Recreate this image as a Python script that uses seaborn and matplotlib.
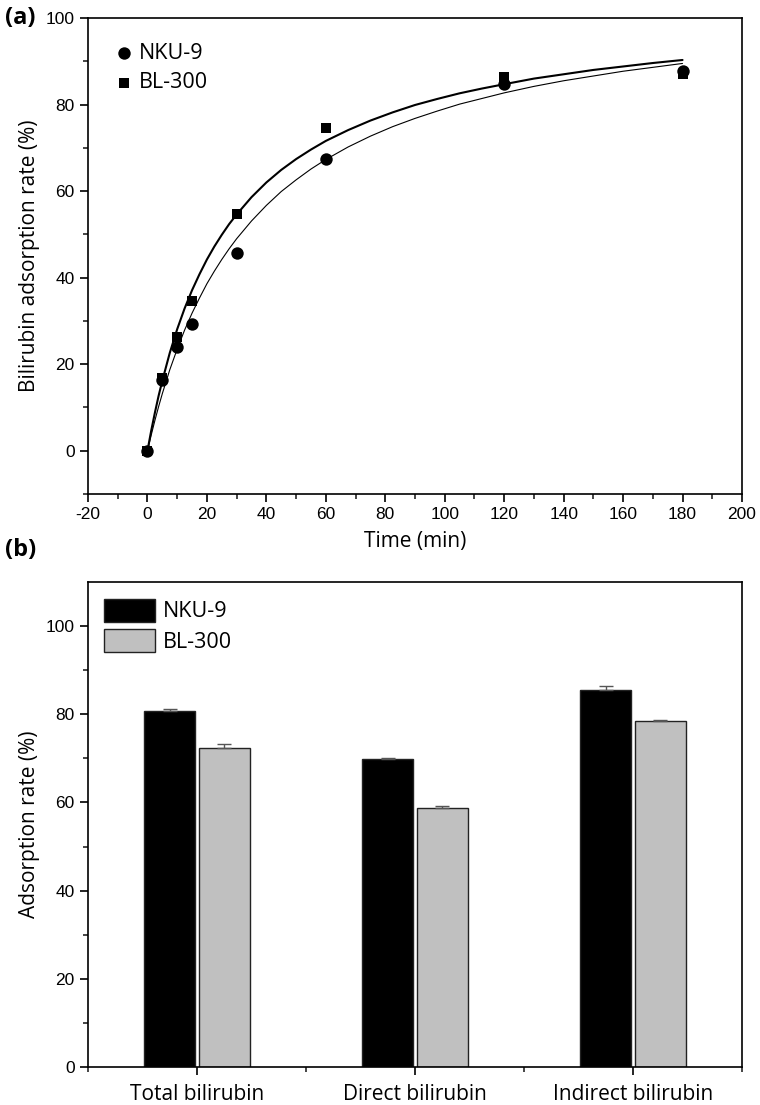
import numpy as np
import pandas as pd
import matplotlib
matplotlib.use('Agg')
import matplotlib.pyplot as plt
import seaborn as sns
from matplotlib.ticker import MultipleLocator, FixedLocator

# --- Data ---
# (a) adsorption kinetics
time_min = [0, 5, 10, 15, 30, 60, 120, 180]
nku9_rate = [0.0, 16.3, 23.9, 29.3, 45.8, 67.4, 84.7, 87.8]
bl300_rate = [0.0, 16.7, 26.3, 34.7, 54.6, 74.5, 86.3, 87.0]

# fitted curves
fit_time = [0, 1.25, 2.5, 3.75, 5, 7.5, 10, 12.5, 15, 17.5, 20, 22.5, 25, 27.5, 30,
            35, 40, 45, 50, 55, 60, 67.5, 75, 82.5, 90, 97.5, 105, 112.5, 120,
            130, 140, 150, 160, 170, 180]
nku9_fit = [0.0, 3.6, 7.0, 10.2, 13.2, 18.7, 23.5, 27.9, 31.8, 35.3, 38.6, 41.5, 44.2,
            46.7, 49.0, 53.1, 56.7, 59.9, 62.6, 65.1, 67.3, 70.2, 72.7, 74.9, 76.8,
            78.5, 80.1, 81.4, 82.7, 84.2, 85.5, 86.6, 87.7, 88.6, 89.5]
bl300_fit = [0.0, 4.6, 8.8, 12.7, 16.2, 22.6, 28.1, 32.9, 37.1, 40.8, 44.2, 47.2, 49.9,
             52.4, 54.6, 58.6, 62.0, 64.9, 67.4, 69.6, 71.6, 74.1, 76.3, 78.2, 79.9,
             81.3, 82.6, 83.7, 84.7, 86.0, 87.0, 88.0, 88.8, 89.6, 90.3]

# (b) adsorption of bilirubin types
categories = ['Total bilirubin', 'Direct bilirubin', 'Indirect bilirubin']
nku9_bar = [80.8, 69.8, 85.6]
nku9_err = [0.5, 0.35, 0.7]
bl300_bar = [72.4, 58.7, 78.5]
bl300_err = [0.8, 0.4, 0.2]

sns.set_style('ticks')
plt.rcParams['font.family'] = ['Liberation Sans', 'DejaVu Sans']
plt.rcParams['axes.unicode_minus'] = False
plt.rcParams['text.color'] = 'black'
plt.rcParams['axes.labelcolor'] = 'black'
label_font = {'family': 'Open Sans', 'size': 15, 'color': 'black'}
legend_font = {'family': 'Open Sans', 'size': 15.5}

fig = plt.figure(figsize=(7.6, 11.05), dpi=100)
ax1 = fig.add_axes([0.1158, 0.5529, 0.8605, 0.4308])
ax2 = fig.add_axes([0.1158, 0.0344, 0.8605, 0.4389])

# --- Panel (a) ---
df_pts = pd.DataFrame({'t': time_min * 2,
                       'rate': nku9_rate + bl300_rate,
                       'sample': ['NKU-9'] * len(time_min) + ['BL-300'] * len(time_min)})
df_fit = pd.DataFrame({'t': fit_time * 2,
                       'rate': nku9_fit + bl300_fit,
                       'sample': ['NKU-9'] * len(fit_time) + ['BL-300'] * len(fit_time)})

sns.lineplot(data=df_fit[df_fit['sample'] == 'NKU-9'], x='t', y='rate', color='black',
             linewidth=0.8, ax=ax1, legend=False)
sns.lineplot(data=df_fit[df_fit['sample'] == 'BL-300'], x='t', y='rate', color='black',
             linewidth=1.5, ax=ax1, legend=False)
sns.scatterplot(data=df_pts[df_pts['sample'] == 'BL-300'], x='t', y='rate', marker='s',
                s=55, color='black', linewidth=0, ax=ax1, label='BL-300', zorder=3)
sns.scatterplot(data=df_pts[df_pts['sample'] == 'NKU-9'], x='t', y='rate', marker='o',
                s=80, color='black', linewidth=0, ax=ax1, label='NKU-9', zorder=4)

h, l = ax1.get_legend_handles_labels()
order = [l.index('NKU-9'), l.index('BL-300')]
ax1.legend([h[i] for i in order], [l[i] for i in order], loc='upper left',
           bbox_to_anchor=(0.019, 0.975), frameon=False, prop=legend_font,
           handlelength=1.0, handletextpad=0.2, labelspacing=0.4, borderaxespad=0.2)

ax1.set_xlim(-20, 200)
ax1.set_ylim(-10, 100)
ax1.xaxis.set_major_locator(MultipleLocator(20))
ax1.xaxis.set_minor_locator(MultipleLocator(10))
ax1.yaxis.set_major_locator(FixedLocator([0, 20, 40, 60, 80, 100]))
ax1.yaxis.set_minor_locator(FixedLocator([-10, 10, 30, 50, 70, 90]))
ax1.set_xlabel('Time (min)', fontdict=label_font, labelpad=6)
ax1.set_ylabel('Bilirubin adsorption rate (%)', fontdict=label_font, labelpad=4)

# --- Panel (b) ---
df_bar = pd.DataFrame({'category': categories * 2,
                       'rate': nku9_bar + bl300_bar,
                       'sample': ['NKU-9'] * 3 + ['BL-300'] * 3})
sns.barplot(data=df_bar, x='category', y='rate', hue='sample',
            palette={'NKU-9': 'black', 'BL-300': '#c0c0c0'},
            width=0.5, gap=0.06, edgecolor='#222222', linewidth=1.0,
            errorbar=None, ax=ax2)

for cont, errs in zip(ax2.containers, [nku9_err, bl300_err]):
    xs = [p.get_x() + p.get_width() / 2 for p in cont]
    ys = [p.get_height() for p in cont]
    ax2.errorbar(xs, ys, yerr=[np.zeros(len(errs)), errs], fmt='none',
                 ecolor='#555555', elinewidth=1.0, capsize=5, capthick=1.0, zorder=1)

ax2.legend(loc='upper left', bbox_to_anchor=(0.004, 0.992), frameon=False,
           prop=legend_font, handlelength=2.4, handleheight=1.25,
           handletextpad=0.35, labelspacing=0.3, borderaxespad=0.2)

ax2.set_xlim(-0.5, 2.5)
ax2.set_ylim(0, 110)
ax2.xaxis.set_minor_locator(FixedLocator([-0.5, 0.5, 1.5, 2.5]))
ax2.yaxis.set_major_locator(FixedLocator([0, 20, 40, 60, 80, 100]))
ax2.yaxis.set_minor_locator(FixedLocator([10, 30, 50, 70, 90]))
ax2.set_xlabel('')
ax2.set_ylabel('Adsorption rate (%)', fontdict=label_font, labelpad=4)

for ax in (ax1, ax2):
    for sp in ax.spines.values():
        sp.set_visible(True)
        sp.set_linewidth(1.2)
        sp.set_color('black')
    ax.tick_params(which='major', direction='out', length=6, width=1.2,
                   labelsize=12.5, colors='black', top=False, right=False)
    ax.tick_params(which='minor', direction='out', length=3.5, width=1.2,
                   top=False, right=False)

ax2.tick_params(axis='x', which='major', pad=6)
for t in ax2.get_xticklabels():
    t.set_fontfamily('Open Sans')
    t.set_fontsize(15)

fig.text(0.006, 0.984, '(a)', fontfamily='Open Sans', fontweight='bold',
         fontsize=17, va='center', ha='left')
fig.text(0.006, 0.502, '(b)', fontfamily='Open Sans', fontweight='bold',
         fontsize=17, va='center', ha='left')

fig.savefig('out.png', dpi=100)
plt.close(fig)
